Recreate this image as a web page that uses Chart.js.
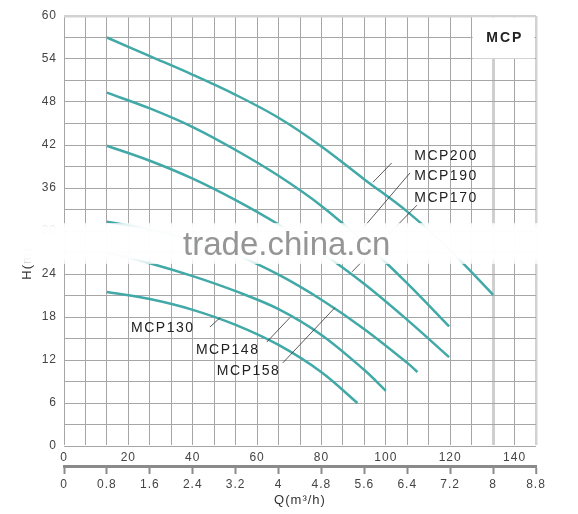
<!DOCTYPE html>
<html>
<head>
<meta charset="utf-8">
<script src="https://cdn.jsdelivr.net/npm/chart.js@4.4.1/dist/chart.umd.min.js"></script>
<style>
  body { margin: 0; background: #fff; }
  canvas { display: block; }
</style>
</head>
<body>
<canvas id="pumpChart" width="578" height="514"></canvas>
<script>
// flow Q (m3/h) and head H (m)
const q200 = [0.8, 1.6, 2.4, 3.2, 4.0, 4.8, 5.6, 6.4, 7.2, 8.0];
const h200 = [57.0, 54.4, 51.8, 49.0, 45.8, 41.8, 37.2, 32.7, 27.3, 21.1];
const q190 = [0.8, 1.6, 2.4, 3.2, 4.0, 4.8, 5.6, 6.4, 7.18];
const h190 = [49.3, 47.1, 44.5, 41.3, 37.7, 33.5, 28.4, 22.7, 16.7];
const q170 = [0.8, 1.6, 2.4, 3.2, 4.0, 4.8, 5.6, 6.4, 7.18];
const h170 = [41.9, 39.8, 37.3, 34.3, 30.9, 27.0, 22.6, 17.6, 12.4];
const q158 = [0.8, 1.6, 2.4, 3.2, 4.0, 4.8, 5.6, 6.4, 6.59];
const h158 = [31.3, 30.2, 28.7, 26.7, 23.9, 20.4, 16.3, 11.6, 10.3];
const q148 = [0.8, 1.6, 2.4, 3.2, 4.0, 4.8, 5.6, 6.0];
const h148 = [27.0, 25.5, 23.7, 21.6, 19.1, 15.5, 10.6, 7.7];
const q130 = [0.8, 1.6, 2.4, 3.2, 4.0, 4.8, 5.47];
const h130 = [21.5, 20.5, 19.0, 16.9, 14.1, 10.3, 6.0];

const curveNames = ['MCP200', 'MCP190', 'MCP170', 'MCP158', 'MCP148', 'MCP130'];
const curveQ = [q200, q190, q170, q158, q148, q130];
const curveH = [h200, h190, h170, h158, h148, h130];

// tick labels
const qTicks = [0, 0.8, 1.6, 2.4, 3.2, 4, 4.8, 5.6, 6.4, 7.2, 8, 8.8];
const lminTicks = [0, 20, 40, 60, 80, 100, 120, 140];
const hTicks = [0, 6, 12, 18, 24, 30, 36, 42, 48, 54, 60];

// name tags with their leader lines, in chart units (Q, H)
const tags = [
  { text: 'MCP200', at: [6.53, 40.4], from: [6.11, 39.5], to: [5.76, 36.8] },
  { text: 'MCP190', at: [6.53, 37.6], from: [6.45, 38.1], to: [5.37, 28.6] },
  { text: 'MCP170', at: [6.53, 34.6], from: [6.58, 33.6], to: [5.37, 24.3] },
  { text: 'MCP130', at: [1.25, 16.4], from: [2.72, 16.6], to: [2.91, 17.9] },
  { text: 'MCP148', at: [2.46, 13.4], from: [3.78, 14.5], to: [4.21, 17.9] },
  { text: 'MCP158', at: [2.85, 10.5], from: [4.08, 11.6], to: [5.05, 19.3] }
];
const boxQ = [7.6, 8.8], boxH = [54, 60];
const bandQ = [-0.9, 8.8], bandH = [25.4, 31.1];

const teal = '#41a9a7';
const fontFam = '"Liberation Sans", Arial, sans-serif';
Chart.defaults.font.family = fontFam;

const near = (a, b) => Math.abs(a - b) < 1e-6;

const decor = {
  id: 'decor',
  beforeDraw(chart) { chart.ctx.letterSpacing = '1px'; },
  beforeDatasetsDraw(chart) {
    const { ctx, scales: { x, y } } = chart;
    const x0 = x.getPixelForValue(boxQ[0]), x1 = x.getPixelForValue(boxQ[1]);
    const y0 = y.getPixelForValue(boxH[1]), y1 = y.getPixelForValue(boxH[0]);
    ctx.save();
    ctx.fillStyle = '#fff';
    ctx.fillRect(x0 + 1, y0 + 1.5, x1 - x0 - 2.5, y1 - y0 - 2);
    ctx.fillStyle = '#222';
    ctx.font = 'bold 14px ' + fontFam;
    ctx.letterSpacing = '2px';
    ctx.textAlign = 'center';
    ctx.textBaseline = 'middle';
    ctx.fillText('MCP', (x0 + x1) / 2 + 1, (y0 + y1) / 2 + 1);
    ctx.restore();
  },
  afterDatasetsDraw(chart) {
    const { ctx, chartArea, scales: { x, y } } = chart;
    const px = v => x.getPixelForValue(v), py = v => y.getPixelForValue(v);
    ctx.save();
    // leader lines
    ctx.strokeStyle = '#333';
    ctx.lineWidth = 0.8;
    tags.forEach(t => {
      ctx.beginPath();
      ctx.moveTo(px(t.from[0]), py(t.from[1]));
      ctx.lineTo(px(t.to[0]), py(t.to[1]));
      ctx.stroke();
    });
    // y axis title
    ctx.save();
    ctx.translate(chartArea.left - 37, py(25.5));
    ctx.rotate(-Math.PI / 2);
    ctx.fillStyle = '#333';
    ctx.font = '13px ' + fontFam;
    ctx.letterSpacing = '1px';
    ctx.textAlign = 'center';
    ctx.textBaseline = 'middle';
    ctx.fillText('H(m)', 0, 0);
    ctx.restore();
    // watermark band
    const bx0 = px(bandQ[0]), bx1 = px(bandQ[1]);
    const by0 = py(bandH[1]), by1 = py(bandH[0]);
    const g = ctx.createLinearGradient(0, by0, 0, by1);
    g.addColorStop(0, 'rgba(255,255,255,0.8)');
    g.addColorStop(0.12, 'rgba(255,255,255,0.98)');
    g.addColorStop(0.85, 'rgba(255,255,255,0.98)');
    g.addColorStop(1, 'rgba(255,255,255,0.75)');
    ctx.fillStyle = g;
    ctx.fillRect(bx0, by0, bx1 - bx0 + 4, by1 - by0);
    ctx.fillStyle = 'rgba(130,130,130,0.85)';
    ctx.font = '33px ' + fontFam;
    ctx.letterSpacing = '0px';
    ctx.textAlign = 'left';
    ctx.textBaseline = 'alphabetic';
    ctx.fillText('trade.china.cn', px(2.22), py(26.6));
    // tags
    ctx.fillStyle = '#222';
    ctx.font = '14px ' + fontFam;
    ctx.letterSpacing = '1.5px';
    ctx.textBaseline = 'middle';
    tags.forEach(t => ctx.fillText(t.text, px(t.at[0]), py(t.at[1])));
    ctx.restore();
  },
  afterDraw(chart) { chart.ctx.letterSpacing = '0px'; }
};

const datasets = curveNames.map((name, i) => ({
  label: name,
  data: curveQ[i].map((q, j) => ({ x: q, y: curveH[i][j] })),
  borderColor: teal,
  borderWidth: 2.5,
  pointRadius: 0,
  tension: 0.35,
  fill: false,
  xAxisID: 'x',
  yAxisID: 'y'
}));

new Chart(document.getElementById('pumpChart').getContext('2d'), {
  type: 'line',
  data: { datasets: datasets },
  plugins: [decor],
  options: {
    responsive: false,
    animation: false,
    layout: { padding: { left: 0, right: 42, top: 16, bottom: 0 } },
    plugins: { legend: { display: false }, tooltip: { enabled: false } },
    scales: {
      x: {
        type: 'linear', position: 'bottom', weight: 1,
        min: 0, max: 8.8,
        afterFit: s => { s.height = 48; },
        afterBuildTicks: s => {
          const t = [];
          for (let i = 0; i <= 22; i++) t.push({ value: Math.round(i * 4) / 10 });
          s.ticks = t;
        },
        border: { display: true, color: '#8a8a8a', width: 3 },
        grid: {
          color: c => near(c.tick.value, 8) ? '#cfcfcf' : near(c.tick.value, 8.8) ? '#d2d2d2' : '#a6a6a6',
          lineWidth: c => near(c.tick.value, 8) ? 3 : near(c.tick.value, 8.8) ? 2.5 : 1,
          tickColor: c => qTicks.some(v => near(v, c.tick.value)) ? '#8a8a8a' : 'rgba(0,0,0,0)',
          tickWidth: 2,
          tickLength: 8
        },
        ticks: {
          autoSkip: false, maxRotation: 0, padding: 3,
          color: '#444', font: { size: 12 },
          callback: v => qTicks.some(t => near(t, v)) ? String(+v.toFixed(1)) : ''
        },
        title: {
          display: true, text: 'Q(m³/h)', color: '#333',
          font: { size: 13 }, padding: { top: 0, bottom: 6 }
        }
      },
      x2: {
        type: 'linear', position: 'bottom', weight: 0,
        min: 0, max: 8.8 * 1000 / 60,
        afterFit: s => { s.height = 20; },
        afterBuildTicks: s => { s.ticks = lminTicks.map(v => ({ value: v })); },
        border: { display: false },
        grid: { display: false, drawTicks: false },
        ticks: { autoSkip: false, maxRotation: 0, padding: 4, color: '#444', font: { size: 12 } }
      },
      y: {
        min: 0, max: 60,
        afterFit: s => { s.width = 64; },
        afterBuildTicks: s => {
          const t = [];
          for (let v = 0; v <= 60; v += 3) t.push({ value: v });
          s.ticks = t;
        },
        border: { display: false },
        grid: {
          drawTicks: false,
          color: c => c.tick.value === 60 ? '#d2d2d2' : '#a6a6a6',
          lineWidth: c => c.tick.value === 60 ? 2.5 : 1
        },
        ticks: {
          padding: 7, color: '#444', font: { size: 12 },
          callback: v => hTicks.includes(v) ? v : ''
        }
      }
    }
  }
});
</script>
</body>
</html>
